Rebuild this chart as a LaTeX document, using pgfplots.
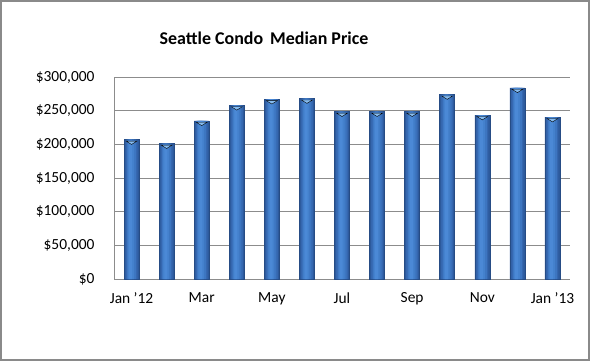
\documentclass[border=0pt]{standalone}
\usepackage{pgfplots}
\pgfplotsset{compat=1.18}
\usepackage{fontspec}
\setmainfont{Carlito}
\definecolor{gridgray}{HTML}{8C8C8C}
\definecolor{framegray}{HTML}{8A8A8A}
\definecolor{b1}{HTML}{2D5A9C}
\definecolor{b2}{HTML}{3567AF}
\definecolor{b3}{HTML}{3D76C1}
\definecolor{b4}{HTML}{4481CD}
\definecolor{b5}{HTML}{4B89D6}
\definecolor{capblue}{HTML}{86BCF0}
\pgfplotstableread{
x y
0 207000
1 201000
2 235000
3 258000
4 267000
5 268000
6 248500
7 248500
8 248500
9 274000
10 243500
11 284000
12 240500
}\prices
\begin{document}
\begin{tikzpicture}
\path[use as bounding box] (0,0) rectangle (590bp,361bp);
\draw[framegray, line width=1.6bp] (0.8bp,0.8bp) rectangle (589.2bp,360.2bp);
\node[font=\fontsize{18}{21}\selectfont\bfseries] at (264bp,323bp) {Seattle Condo\, Median Price};
\begin{axis}[
  at={(114bp,82bp)}, anchor=south west,
  scale only axis, width=456bp, height=202bp,
  xmin=-0.5, xmax=12.5, ymin=0, ymax=300000,
  xtick={0,2,4,6,8,10,12},
  xticklabels={Jan '12,Mar,May,Jul,Sep,Nov,Jan '13},
  ytick={0,50000,100000,150000,200000,250000,300000},
  yticklabels={{\$0},{\$50,000},{\$100,000},{\$150,000},{\$200,000},{\$250,000},{\$300,000}},
  scaled y ticks=false,
  major tick length=0pt,
  ymajorgrids, grid style={gridgray, line width=0.8bp},
  axis line style={gridgray, line width=0.8bp},
  axis x line*=bottom, axis y line*=left,
  ticklabel style={font=\fontsize{15.5}{18}\selectfont},
  yticklabel style={xshift=-16bp},
  xticklabel style={yshift=-10bp},
  clip=false,
]
\addplot[ybar, bar width=15bp, draw=b1!85!black, line width=0.5bp, fill=b1] table[x=x,y=y]{\prices};
\addplot[ybar, bar width=12bp, draw=none, fill=b2] table[x=x,y=y]{\prices};
\addplot[ybar, bar width=9bp, draw=none, fill=b3] table[x=x,y=y]{\prices};
\addplot[ybar, bar width=6bp, draw=none, fill=b4, bar shift=-0.5bp] table[x=x,y=y]{\prices};
\addplot[ybar, bar width=3bp, draw=none, fill=b5, bar shift=-0.8bp] table[x=x,y=y]{\prices};
\addplot[only marks, mark=triangle*, mark size=3bp, mark options={yshift=-2.6bp, rotate=180, xscale=2.1, yscale=0.75, fill=capblue, draw=none}] table[x=x,y=y]{\prices};
\end{axis}
\end{tikzpicture}
\end{document}
